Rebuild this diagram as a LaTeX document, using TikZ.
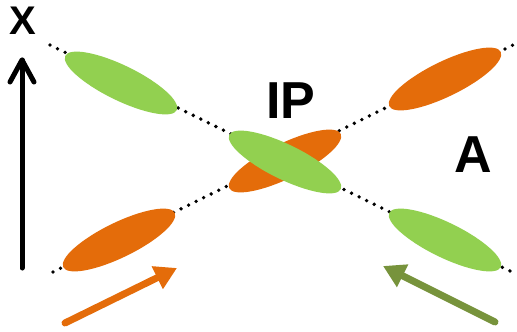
\documentclass[tikz,border=0pt]{standalone}
\usepackage{fontspec}
\setmainfont{Liberation Sans}
\usetikzlibrary{shapes.geometric,arrows.meta}
\definecolor{lgreen}{HTML}{92D050}
\definecolor{orng}{HTML}{E46C0A}
\definecolor{olive}{HTML}{77933C}
\begin{document}
\begin{tikzpicture}[x=1pt,y=-1pt,
  dotline/.style={line width=3.8pt,line cap=round,dash pattern=on 0pt off 8.4pt,black},
  blob/.style={ellipse,inner sep=0pt,minimum width=124pt,minimum height=35pt},
  gblob/.style={blob,fill=lgreen,rotate=-26},
  oblob/.style={blob,fill=orng,rotate=26},
  lbl/.style={font=\bfseries\fontsize{52}{52}\selectfont,inner sep=0pt},
  beam/.style={line width=7pt,line cap=round,-{Triangle[length=22pt,width=24pt]}}]
\useasboundingbox (0,0) rectangle (517,332);
\coordinate (gs) at (50,45);
\coordinate (ge) at (512,272);
\coordinate (os) at (53,272);
\coordinate (oe) at (513,45);
\draw[dotline] (gs) -- (ge);
\draw[dotline] (os) -- (oe);
\node[oblob] (o1) at (119,240) {};
\node[oblob] (o3) at (445,79) {};
\node[oblob] (o2) at (285,161) {};
\node[gblob] (g1) at (121,83) {};
\node[gblob] (g3) at (445,240) {};
\node[gblob] (g2) at (285,162) {};
\node[lbl] (ip) at (291,101) {IP};
\node[lbl] (a) at (473,155) {A};
\node[lbl,font=\bfseries\fontsize{40}{40}\selectfont] (x) at (23,21) {X};
\coordinate (xb) at (22,268);
\coordinate (xt) at (22,60);
\draw[line width=5pt,line cap=round] (xb) -- (xt);
\draw[line width=5pt,line cap=round,line join=round] (10,82) -- (xt) -- (34,82);
\coordinate (oas) at (65,323);
\coordinate (oat) at (177,268);
\coordinate (gas) at (495,322);
\coordinate (gat) at (383,266);
\draw[beam,orng] (oas) -- (oat);
\draw[beam,olive] (gas) -- (gat);
\end{tikzpicture}
\end{document}
